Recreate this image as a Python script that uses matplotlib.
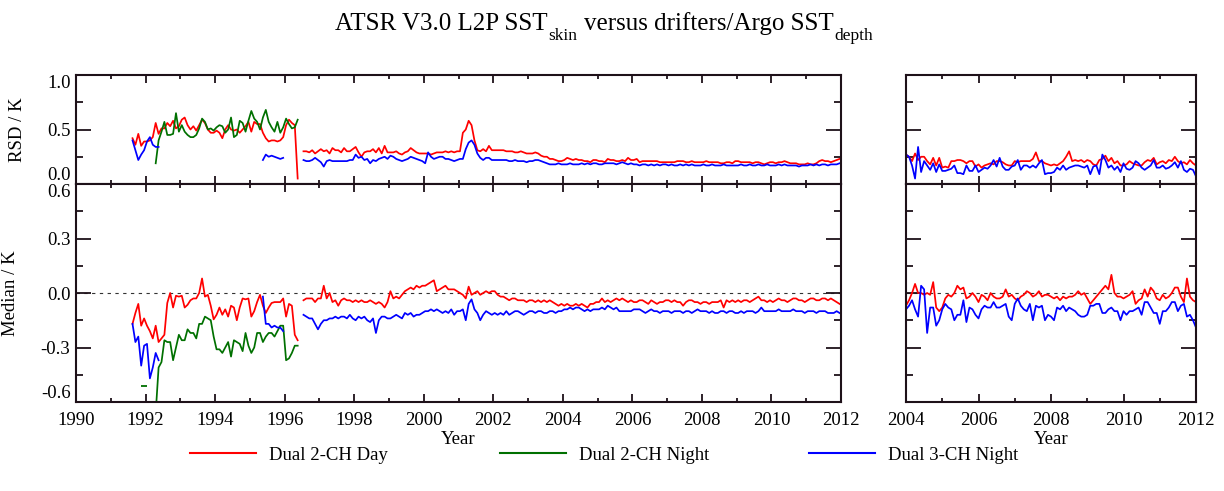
import numpy as np
import matplotlib
matplotlib.use("Agg")
import matplotlib.pyplot as plt
from matplotlib.ticker import MultipleLocator, NullFormatter
from matplotlib.lines import Line2D

plt.rcParams['font.family'] = ['Liberation Serif', 'DejaVu Serif']

# ---------------- data (monthly values) ----------------
# ATSR-1 period
day_atsr1_start = 1991.625
rsd_day_atsr1 = [0.42, 0.36, 0.46, 0.35, 0.39, 0.39, 0.40, 0.43, 0.56, 0.46,
                 0.51, 0.51, 0.56, 0.53, 0.58, 0.51, 0.53, 0.59, 0.61, 0.54,
                 0.50, 0.53, 0.49, 0.54, 0.59, 0.56, 0.50, 0.47, 0.47, 0.49,
                 0.47, 0.42, 0.50, 0.54, 0.50, 0.49, 0.50, 0.47, 0.50, 0.53,
                 0.57, 0.48, 0.57, 0.55, 0.55, 0.47, 0.42, 0.39, 0.40, 0.40,
                 0.39, 0.40, 0.43, 0.54, 0.59, 0.56, 0.54, 0.05]
med_day_atsr1 = [-0.17, -0.11, -0.06, -0.18, -0.14, -0.18, -0.21, -0.25, -0.18, -0.27,
                 -0.25, -0.23, -0.055, 0.0, -0.08, -0.015, -0.02, -0.015, -0.08, -0.065,
                 -0.04, -0.03, -0.03, 0.0, 0.08, -0.02, -0.01, -0.07, -0.145, -0.12,
                 -0.08, -0.12, -0.09, -0.13, -0.07, -0.08, -0.15, -0.08, -0.03, -0.035,
                 -0.03, -0.13, -0.10, -0.05, -0.01, -0.07, -0.11, -0.08, -0.055, -0.05,
                 -0.05, -0.05, -0.03, -0.13, -0.06, -0.07, -0.23, -0.26]

n2_atsr1_start = 1992.292
rsd_n2_atsr1 = [0.19, 0.40, 0.48, 0.57, 0.45, 0.45, 0.46, 0.65, 0.48, 0.54,
                0.48, 0.45, 0.43, 0.43, 0.45, 0.51, 0.60, 0.57, 0.50, 0.51,
                0.49, 0.52, 0.54, 0.53, 0.47, 0.50, 0.61, 0.43, 0.45, 0.58,
                0.56, 0.48, 0.58, 0.67, 0.60, 0.57, 0.50, 0.61, 0.68, 0.57,
                0.52, 0.48, 0.57, 0.47, 0.52, 0.60, 0.55, 0.51, 0.52, 0.59]
med_n2_atsr1 = [-0.66, -0.41, -0.38, -0.26, -0.27, -0.27, -0.37, -0.30, -0.23, -0.26,
                -0.26, -0.20, -0.22, -0.22, -0.25, -0.17, -0.17, -0.13, -0.14, -0.15,
                -0.24, -0.31, -0.31, -0.33, -0.30, -0.27, -0.35, -0.26, -0.27, -0.28,
                -0.32, -0.22, -0.29, -0.33, -0.30, -0.22, -0.22, -0.27, -0.24, -0.22,
                -0.22, -0.24, -0.21, -0.18, -0.18, -0.37, -0.36, -0.33, -0.29, -0.29]
n2_single_time = 1991.958
med_n2_single = -0.51

n3_atsr1_start = 1991.625
rsd_n3_atsr1 = [0.40, 0.31, 0.22, 0.27, 0.31, 0.39, 0.43, 0.36, 0.34, 0.34]
med_n3_atsr1 = [-0.17, -0.27, -0.24, -0.40, -0.29, -0.28, -0.47, -0.41, -0.33, -0.37]

n3_1995_start = 1995.375
rsd_n3_1995 = [0.22, 0.27, 0.25, 0.26, 0.25, 0.24, 0.23, 0.24]
med_n3_1995 = [-0.02, -0.17, -0.17, -0.19, -0.18, -0.19, -0.19, -0.21]

# ATSR-2 / AATSR period
late_start = 1996.542
rsd_day_late = [0.30, 0.30, 0.29, 0.31, 0.28, 0.30,
                0.32, 0.30, 0.31, 0.28, 0.33, 0.31, 0.31, 0.29, 0.33, 0.30, 0.30, 0.32,
                0.34, 0.29, 0.25, 0.29, 0.30, 0.30, 0.32, 0.29, 0.33, 0.28, 0.35, 0.29,
                0.29, 0.29, 0.30, 0.28, 0.27, 0.29, 0.30, 0.33, 0.31, 0.29, 0.28, 0.28,
                0.28, 0.28, 0.27, 0.28, 0.29, 0.29, 0.29, 0.30, 0.29, 0.30, 0.29, 0.30,
                0.30, 0.47, 0.50, 0.58, 0.54, 0.40, 0.31, 0.30, 0.32, 0.30, 0.35, 0.31,
                0.31, 0.31, 0.31, 0.31, 0.30, 0.30, 0.30, 0.29, 0.29, 0.30, 0.29, 0.28,
                0.28, 0.28, 0.29, 0.28, 0.26, 0.25, 0.25, 0.23, 0.23, 0.22, 0.21, 0.21,
                0.22, 0.24, 0.23, 0.22, 0.23, 0.22, 0.22, 0.21, 0.21, 0.20, 0.22, 0.22,
                0.21, 0.21, 0.20, 0.23, 0.22, 0.22, 0.21, 0.21, 0.22, 0.21, 0.24, 0.22,
                0.22, 0.23, 0.20, 0.21, 0.21, 0.21, 0.21, 0.21, 0.21, 0.20, 0.20, 0.20,
                0.20, 0.20, 0.20, 0.21, 0.21, 0.21, 0.20, 0.20, 0.21, 0.20, 0.20, 0.20,
                0.20, 0.21, 0.20, 0.20, 0.20, 0.20, 0.19, 0.19, 0.20, 0.20, 0.19, 0.21,
                0.21, 0.20, 0.20, 0.20, 0.20, 0.19, 0.20, 0.20, 0.19, 0.18, 0.19, 0.20,
                0.20, 0.19, 0.20, 0.20, 0.21, 0.20, 0.19, 0.19, 0.19, 0.18, 0.18, 0.18,
                0.19, 0.18, 0.18, 0.19, 0.21, 0.22, 0.21, 0.21, 0.20, 0.21, 0.22, 0.23]
rsd_n3_late = [0.22, 0.21, 0.21, 0.22, 0.24, 0.22,
               0.20, 0.16, 0.21, 0.22, 0.21, 0.21, 0.21, 0.21, 0.21, 0.21, 0.22, 0.22,
               0.27, 0.24, 0.25, 0.22, 0.23, 0.19, 0.22, 0.21, 0.23, 0.24, 0.25, 0.23,
               0.26, 0.25, 0.23, 0.22, 0.21, 0.22, 0.23, 0.25, 0.24, 0.23, 0.22, 0.21,
               0.19, 0.29, 0.25, 0.23, 0.24, 0.25, 0.25, 0.23, 0.23, 0.22, 0.21, 0.22,
               0.23, 0.23, 0.32, 0.38, 0.40, 0.36, 0.28, 0.24, 0.22, 0.24, 0.24, 0.22,
               0.22, 0.22, 0.22, 0.22, 0.22, 0.21, 0.21, 0.22, 0.21, 0.21, 0.21, 0.20,
               0.21, 0.21, 0.22, 0.22, 0.21, 0.20, 0.19, 0.18, 0.18, 0.18, 0.19, 0.18,
               0.18, 0.18, 0.19, 0.18, 0.18, 0.18, 0.19, 0.18, 0.19, 0.18, 0.19, 0.19,
               0.18, 0.18, 0.19, 0.19, 0.19, 0.19, 0.18, 0.19, 0.20, 0.19, 0.18, 0.19,
               0.18, 0.18, 0.17, 0.18, 0.18, 0.17, 0.18, 0.17, 0.18, 0.17, 0.18, 0.18,
               0.17, 0.18, 0.17, 0.17, 0.18, 0.17, 0.18, 0.17, 0.18, 0.17, 0.17, 0.17,
               0.18, 0.17, 0.17, 0.18, 0.17, 0.17, 0.17, 0.18, 0.17, 0.17, 0.17, 0.17,
               0.17, 0.18, 0.17, 0.17, 0.18, 0.17, 0.17, 0.18, 0.17, 0.17, 0.18, 0.17,
               0.17, 0.17, 0.18, 0.17, 0.18, 0.17, 0.17, 0.17, 0.17, 0.16, 0.17, 0.17,
               0.17, 0.18, 0.17, 0.18, 0.17, 0.18, 0.18, 0.17, 0.18, 0.18, 0.18, 0.19]
med_day_late = [-0.04, -0.03, -0.03, -0.03, -0.05, -0.03,
                -0.03, 0.04, -0.03, 0.00, -0.05, -0.04, -0.07, -0.04, -0.03, -0.04, -0.04, -0.05,
                -0.04, -0.05, -0.04, -0.05, -0.05, -0.04, -0.05, -0.06, -0.05, -0.06, -0.08, -0.05,
                0.01, -0.03, -0.02, -0.03, -0.01, 0.01, 0.02, 0.03, 0.02, 0.04, 0.03, 0.04,
                0.04, 0.05, 0.06, 0.07, 0.01, 0.02, 0.03, 0.04, 0.02, 0.02, 0.02, 0.01,
                0.00, -0.01, -0.03, 0.035, -0.01, 0.00, 0.01, -0.01, 0.00, 0.01, 0.00, 0.01,
                0.01, -0.01, -0.02, -0.02, -0.03, -0.04, -0.03, -0.03, -0.04, -0.04, -0.04, -0.05,
                -0.04, -0.04, -0.05, -0.04, -0.05, -0.04, -0.05, -0.04, -0.05, -0.06, -0.07, -0.06,
                -0.07, -0.06, -0.07, -0.07, -0.06, -0.07, -0.06, -0.07, -0.08, -0.06, -0.06, -0.05,
                -0.05, -0.03, -0.05, -0.04, -0.05, -0.04, -0.03, -0.04, -0.03, -0.04, -0.05, -0.04,
                -0.05, -0.05, -0.04, -0.04, -0.05, -0.06, -0.04, -0.05, -0.06, -0.05, -0.05, -0.04,
                -0.04, -0.05, -0.04, -0.05, -0.05, -0.07, -0.05, -0.04, -0.04, -0.05, -0.05, -0.06,
                -0.05, -0.05, -0.06, -0.05, -0.05, -0.05, -0.04, -0.08, -0.04, -0.05, -0.04, -0.05,
                -0.04, -0.05, -0.04, -0.04, -0.05, -0.04, -0.03, -0.02, -0.04, -0.04, -0.05, -0.04,
                -0.05, -0.04, -0.03, -0.04, -0.04, -0.05, -0.04, -0.03, -0.03, -0.04, -0.04, -0.05,
                -0.04, -0.03, -0.03, -0.04, -0.04, -0.03, -0.03, -0.04, -0.03, -0.04, -0.05, -0.06]
med_n3_late = [-0.12, -0.13, -0.14, -0.14, -0.17, -0.20,
               -0.17, -0.15, -0.15, -0.14, -0.14, -0.13, -0.14, -0.13, -0.13, -0.14, -0.12, -0.14,
               -0.15, -0.13, -0.14, -0.13, -0.15, -0.16, -0.14, -0.22, -0.15, -0.13, -0.13, -0.14,
               -0.14, -0.13, -0.12, -0.13, -0.14, -0.11, -0.12, -0.11, -0.13, -0.12, -0.12, -0.11,
               -0.10, -0.10, -0.09, -0.10, -0.09, -0.10, -0.11, -0.10, -0.11, -0.09, -0.12, -0.10,
               -0.10, -0.09, -0.15, -0.06, -0.035, -0.09, -0.11, -0.15, -0.12, -0.10, -0.11, -0.12,
               -0.11, -0.12, -0.11, -0.12, -0.10, -0.12, -0.11, -0.10, -0.10, -0.11, -0.12, -0.11,
               -0.10, -0.10, -0.11, -0.10, -0.10, -0.11, -0.11, -0.10, -0.10, -0.11, -0.10, -0.10,
               -0.09, -0.09, -0.08, -0.09, -0.08, -0.08, -0.09, -0.10, -0.09, -0.10, -0.09, -0.09,
               -0.09, -0.08, -0.09, -0.07, -0.08, -0.09, -0.08, -0.10, -0.10, -0.10, -0.10, -0.10,
               -0.09, -0.09, -0.09, -0.10, -0.11, -0.10, -0.09, -0.10, -0.10, -0.11, -0.10, -0.10,
               -0.10, -0.11, -0.10, -0.10, -0.10, -0.11, -0.10, -0.10, -0.11, -0.10, -0.09, -0.10,
               -0.10, -0.10, -0.11, -0.10, -0.11, -0.11, -0.10, -0.10, -0.11, -0.10, -0.10, -0.11,
               -0.11, -0.10, -0.11, -0.10, -0.10, -0.10, -0.11, -0.10, -0.08, -0.10, -0.10, -0.10,
               -0.10, -0.10, -0.09, -0.10, -0.10, -0.10, -0.10, -0.09, -0.10, -0.10, -0.10, -0.11,
               -0.10, -0.10, -0.10, -0.11, -0.10, -0.10, -0.10, -0.11, -0.11, -0.11, -0.10, -0.11]

# right-hand panel (2004-2012)
right_start = 2004.0
rsd_day_right = [0.27, 0.25, 0.21, 0.28, 0.22, 0.25, 0.25, 0.21, 0.18, 0.24,
                 0.17, 0.24, 0.15, 0.16, 0.15, 0.21, 0.21, 0.22, 0.22, 0.21,
                 0.19, 0.21, 0.21, 0.16, 0.18, 0.15, 0.17, 0.18, 0.19, 0.18,
                 0.21, 0.21, 0.20, 0.18, 0.17, 0.17, 0.21, 0.20, 0.21, 0.21,
                 0.21, 0.21, 0.23, 0.29, 0.21, 0.21, 0.19, 0.18, 0.17, 0.18,
                 0.17, 0.19, 0.21, 0.25, 0.30, 0.21, 0.22, 0.21, 0.22, 0.20,
                 0.22, 0.21, 0.18, 0.17, 0.22, 0.23, 0.26, 0.21, 0.24, 0.19,
                 0.21, 0.17, 0.17, 0.18, 0.21, 0.19, 0.18, 0.17, 0.17, 0.20,
                 0.22, 0.21, 0.24, 0.18, 0.20, 0.21, 0.19, 0.22, 0.21, 0.25,
                 0.21, 0.19, 0.20, 0.18, 0.22, 0.19, 0.17]
rsd_n3_right = [0.27, 0.25, 0.17, 0.05, 0.34, 0.11, 0.21, 0.17, 0.13, 0.19,
                0.11, 0.18, 0.12, 0.12, 0.13, 0.14, 0.17, 0.10, 0.10, 0.09,
                0.17, 0.12, 0.12, 0.17, 0.11, 0.13, 0.15, 0.14, 0.17, 0.22,
                0.16, 0.24, 0.16, 0.13, 0.13, 0.16, 0.17, 0.22, 0.13, 0.17,
                0.17, 0.15, 0.17, 0.15, 0.19, 0.22, 0.09, 0.10, 0.10, 0.11,
                0.15, 0.13, 0.17, 0.13, 0.15, 0.16, 0.17, 0.17, 0.16, 0.15,
                0.17, 0.09, 0.16, 0.17, 0.09, 0.27, 0.22, 0.15, 0.17, 0.13,
                0.16, 0.11, 0.19, 0.14, 0.13, 0.15, 0.21, 0.19, 0.15, 0.13,
                0.15, 0.17, 0.22, 0.15, 0.15, 0.17, 0.14, 0.15, 0.17, 0.20,
                0.15, 0.21, 0.13, 0.11, 0.14, 0.13, 0.07]
med_day_right = [-0.07, -0.04, 0.00, 0.05, 0.00, 0.00, -0.01, 0.00, -0.01, 0.06,
                 -0.08, -0.10, -0.08, -0.03, -0.01, -0.02, 0.00, 0.04, 0.02, 0.03,
                 -0.03, -0.02, 0.00, -0.02, -0.05, -0.01, -0.02, -0.04, 0.00, -0.02,
                 -0.03, -0.03, -0.02, 0.02, -0.02, -0.01, -0.03, -0.04, -0.02, -0.01,
                 0.01, 0.00, -0.02, -0.01, 0.01, -0.02, -0.01, -0.01, -0.02, -0.03,
                 -0.02, -0.04, -0.02, -0.03, -0.02, -0.02, -0.01, 0.01, -0.01, 0.00,
                 -0.03, -0.06, -0.04, -0.02, 0.00, 0.02, 0.04, 0.02, 0.10, 0.00,
                 -0.02, -0.02, -0.03, -0.02, -0.01, 0.01, -0.06, -0.04, -0.03, 0.02,
                 -0.02, 0.03, 0.01, -0.03, -0.04, -0.01, -0.03, -0.02, 0.00, 0.03,
                 0.03, -0.02, -0.05, 0.08, -0.02, -0.04, -0.05]
med_n3_right = [-0.09, -0.07, -0.04, -0.09, -0.13, 0.04, 0.02, -0.22, -0.08, -0.08,
                -0.18, -0.15, -0.09, -0.06, -0.08, -0.09, -0.15, -0.12, -0.12, -0.04,
                -0.16, -0.08, -0.09, -0.12, -0.14, -0.09, -0.07, -0.08, -0.08, -0.05,
                -0.08, -0.08, -0.07, -0.06, -0.13, -0.15, -0.06, -0.03, -0.07, -0.09,
                -0.10, -0.06, -0.15, -0.07, -0.08, -0.07, -0.15, -0.12, -0.13, -0.15,
                -0.08, -0.09, -0.07, -0.10, -0.08, -0.09, -0.10, -0.12, -0.13, -0.13,
                -0.12, -0.07, -0.07, -0.06, -0.06, -0.11, -0.11, -0.09, -0.08, -0.10,
                -0.10, -0.15, -0.10, -0.12, -0.10, -0.10, -0.09, -0.08, -0.12, -0.05,
                -0.05, -0.08, -0.11, -0.11, -0.17, -0.10, -0.10, -0.08, -0.05, -0.05,
                -0.10, -0.07, -0.06, -0.13, -0.12, -0.15, -0.19]

labels = ['Dual 2-CH Day', 'Dual 2-CH Night', 'Dual 3-CH Night']
colors = ['#ff0000', '#007000', '#0000ff']
title_parts = [('ATSR V3.0 L2P SST', False), ('skin', True),
               ('versus drifters/Argo SST', False), ('depth', True)]

# ---------------- figure ----------------
W, H = 1224, 491
fig = plt.figure(figsize=(W / 100, H / 100), dpi=100)

def fr(x0, y0, x1, y1):
    return [x0 / W, 1 - y1 / H, (x1 - x0) / W, (y1 - y0) / H]

axLt = fig.add_axes(fr(76, 75, 841, 184))
axLb = fig.add_axes(fr(76, 184, 841, 402))
axRt = fig.add_axes(fr(906, 75, 1196, 184))
axRb = fig.add_axes(fr(906, 184, 1196, 402))

LW = 1.25

def seg(ax, start, vals, c):
    t = start + np.arange(len(vals)) / 12.0
    ax.plot(t, vals, color=c, lw=LW)

red, green, blue = colors
# left RSD
seg(axLt, day_atsr1_start, rsd_day_atsr1, red)
seg(axLt, n2_atsr1_start, rsd_n2_atsr1, green)
seg(axLt, n3_atsr1_start, rsd_n3_atsr1, blue)
seg(axLt, n3_1995_start, rsd_n3_1995, blue)
seg(axLt, late_start, rsd_day_late, red)
seg(axLt, late_start, rsd_n3_late, blue)
# left median
seg(axLb, day_atsr1_start, med_day_atsr1, red)
seg(axLb, n2_atsr1_start, med_n2_atsr1, green)
axLb.plot([n2_single_time], [med_n2_single], marker='_', ms=4, mew=1.3, color=green, ls='none')
seg(axLb, n3_atsr1_start, med_n3_atsr1, blue)
seg(axLb, n3_1995_start, med_n3_1995, blue)
seg(axLb, late_start, med_day_late, red)
seg(axLb, late_start, med_n3_late, blue)
# right panels
seg(axRt, right_start, rsd_day_right, red)
seg(axRt, right_start, rsd_n3_right, blue)
seg(axRb, right_start, med_day_right, red)
seg(axRb, right_start, med_n3_right, blue)

frame_c = '#1e1119'
FS = 13.5
for ax in (axLt, axLb, axRt, axRb):
    for s in ax.spines.values():
        s.set_linewidth(1.5)
        s.set_color(frame_c)
    ax.tick_params(which='both', direction='in', top=True, right=True,
                   colors=frame_c, labelcolor='black', labelsize=FS, width=1.3)
    ax.tick_params(axis='x', which='major', length=6, pad=7)
    ax.tick_params(axis='x', which='minor', length=3)
    ax.tick_params(axis='y', which='major', length=10.5, pad=4)
    ax.tick_params(axis='y', which='minor', length=5)
    ax.xaxis.set_major_locator(MultipleLocator(2))
    ax.xaxis.set_minor_locator(MultipleLocator(1))

fmt = plt.FuncFormatter(lambda v, p: '0.0' if abs(v) < 1e-9 else f'{v:.1f}')
for ax in (axLt, axRt):
    ax.set_ylim(0, 1.0)
    ax.set_yticks([0.0, 0.5, 1.0])
    ax.yaxis.set_minor_locator(MultipleLocator(0.25))
    ax.yaxis.set_major_formatter(fmt)
    ax.xaxis.set_major_formatter(NullFormatter())
for ax in (axLb, axRb):
    ax.set_ylim(-0.6, 0.6)
    ax.set_yticks([-0.6, -0.3, 0.0, 0.3, 0.6])
    ax.yaxis.set_minor_locator(MultipleLocator(0.15))
    ax.yaxis.set_major_formatter(fmt)
    ax.axhline(0, color='#333333', lw=0.8, ls=(0, (3, 4)), zorder=0)
    ax.set_xlabel('Year', fontsize=FS, labelpad=2)
for ax in (axLt, axLb):
    ax.set_xlim(1990, 2012)
for ax in (axRt, axRb):
    ax.set_xlim(2004, 2012)
    ax.yaxis.set_major_formatter(NullFormatter())

# IDL-like staggering of the end labels
tl = axLt.get_yticklabels()
tl[0].set_va('bottom'); tl[-1].set_va('top')
bl = axLb.get_yticklabels()
bl[0].set_va('bottom'); bl[-1].set_va('top')

axLt.set_ylabel('RSD / K', fontsize=FS)
axLt.yaxis.set_label_coords(-0.066, 0.5)
axLb.set_ylabel('Median / K', fontsize=FS)
axLb.yaxis.set_label_coords(-0.074, 0.5)

# title with lowered subscripts
renderer = fig.canvas.get_renderer()
big, small, drop = 18, 12.5, 10
gaps = [1, 6, 1, 0]
texts = []
for s, sub in title_parts:
    t = fig.text(0, 0, s, fontsize=small if sub else big, va='baseline', ha='left')
    texts.append((t, sub))
widths = [t.get_window_extent(renderer).width for t, _ in texts]
total = sum(widths) + sum(gaps)
x = 604 - total / 2
base = H - 30
for (t, sub), w, g in zip(texts, widths, gaps):
    t.set_position((x / W, (base - (drop if sub else 0)) / H))
    x += w + g

# legend: three entries spread along the bottom
leg_x = [190, 500, 809]
for lab, c, x in zip(labels, colors, leg_x):
    h = Line2D([], [], color=c, lw=1.5)
    fig.legend([h], [lab], loc='center left', bbox_to_anchor=(x / W, 1 - 455 / H),
               frameon=False, fontsize=FS, handlelength=3.5, handletextpad=0.7,
               borderpad=0, borderaxespad=0)

fig.savefig('out.png', dpi=100)
